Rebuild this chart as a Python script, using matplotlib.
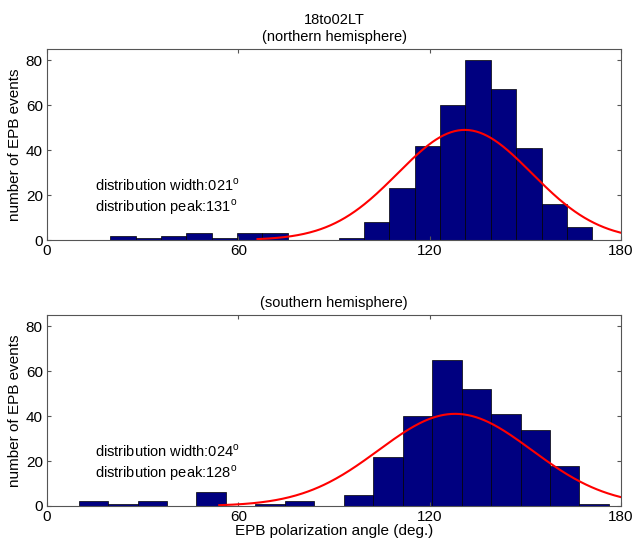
import numpy as np
import matplotlib
matplotlib.use('Agg')
from matplotlib import pyplot as plt

plt.rcParams['font.family'] = ['Liberation Sans', 'DejaVu Sans']
plt.rcParams['mathtext.fontset'] = 'custom'
plt.rcParams['mathtext.rm'] = 'Liberation Sans'
plt.rcParams['font.size'] = 10.5

# histogram counts, northern hemisphere (19 bins from 19.8 to 171.0 deg)
north_edges = np.linspace(19.8, 171.0, 20)
north_counts = [2, 1, 2, 3, 1, 3, 3, 0, 0, 1, 8, 23, 42, 60, 80, 67, 41, 16, 6]

# southern hemisphere (18 bins from 9.9 to 176.2 deg)
south_edges = np.linspace(9.9, 176.2, 19)
south_counts = [2, 1, 2, 0, 6, 0, 1, 2, 0, 5, 22, 40, 65, 52, 41, 34, 18, 1]

# fitted gaussian: peak, width, height, start of drawn curve
north_fit = (131, 21, 49, 66)
south_fit = (128, 24, 41, 54)

titles = ['18to02LT\n(northern hemisphere)', '(southern hemisphere)']


def panel(ax, edges, counts, fit, title):
    widths = np.diff(edges)
    ax.bar(edges[:-1], counts, width=widths, align='edge',
           color='#000080', edgecolor='black', linewidth=0.5)
    peak, width, height, x0 = fit
    x = np.linspace(x0, 180, 300)
    y = height * np.exp(-(x - peak) ** 2 / (2.0 * width ** 2))
    ax.plot(x, y, color='red', linewidth=1.5)
    ax.text(15, 24.2, 'distribution width:%03d$^\\mathrm{o}$' % width,
            va='center', ha='left')
    ax.text(15, 14.6, 'distribution peak:%03d$^\\mathrm{o}$' % peak,
            va='center', ha='left')
    ax.set_xlim(0, 180)
    ax.set_ylim(0, 85)
    ax.set_xticks([0, 60, 120, 180])
    ax.set_yticks([0, 20, 40, 60, 80])
    ax.tick_params(direction='in', top=True, right=True, length=3,
                   color='#555555', pad=3, labelsize=11)
    for s in ax.spines.values():
        s.set_color('#555555')
        s.set_linewidth(0.8)
    ax.set_ylabel('number of EPB events', fontsize=11, labelpad=3)
    ax.set_title(title, fontsize=10.5, pad=6, linespacing=1.25)


fig = plt.figure(figsize=(6.33, 5.45), dpi=100)
ax1 = fig.add_axes([0.0743, 0.5596, 0.9068, 0.3505])
ax2 = fig.add_axes([0.0743, 0.0716, 0.9068, 0.3505])

panel(ax1, north_edges, north_counts, north_fit, titles[0])
panel(ax2, south_edges, south_counts, south_fit, titles[1])
ax2.set_xlabel('EPB polarization angle (deg.)', fontsize=11, labelpad=0)

fig.savefig('out.png', dpi=100)
